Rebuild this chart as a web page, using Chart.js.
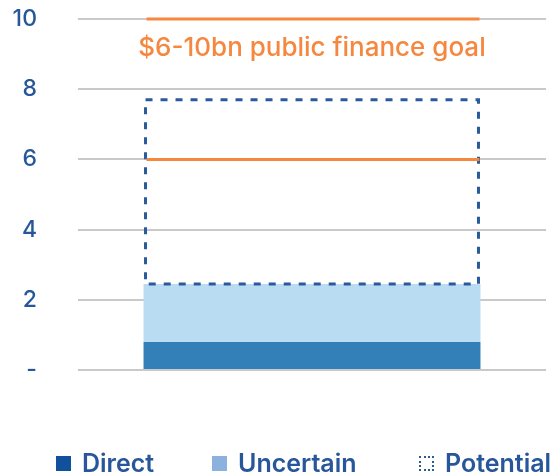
<!DOCTYPE html>
<html lang="en">
  <head>
    <meta charset="utf-8">
    <title>Public finance goal</title>
    <script src="https://cdn.jsdelivr.net/npm/chart.js@4"></script>
    <style>
      body { margin: 0; background: #fff; font-family: Inter, "Open Sans", sans-serif; }
      #chart { position: relative; width: 560px; height: 476px; }
      #legend { position: absolute; left: 56px; top: 448px; display: flex; }
      #legend .item { display: flex; align-items: center; color: #27579a; font-size: 25px; font-weight: 600; }
      #legend .box { width: 15px; height: 15px; margin-right: 11px; box-sizing: border-box; }
    </style>
  </head>
  <body>
    <div id="chart">
      <canvas id="chartCanvas"></canvas>
      <div id="legend"></div>
    </div>
    <script>
      // values (bn)
      const categories = ['Public finance'];
      const direct = [0.8];
      const uncertain = [1.65];
      const potential = [5.25];
      const goalRange = [6, 10];
      const goalLabel = '$6-10bn public finance goal';
      const yTicks = [0, 2, 4, 6, 8, 10];

      const blueText = '#27579a';
      const orange = '#f5873f';
      const fontFamily = 'Inter, "Open Sans", sans-serif';

      // draws the dashed box for Potential and the orange goal lines
      const overlay = {
        id: 'overlay',
        afterDatasetsDraw(chart) {
          const ctx = chart.ctx;
          const y = chart.scales.y;
          const bar = chart.getDatasetMeta(2).data[0];
          const left = bar.x - bar.width / 2;
          const right = bar.x + bar.width / 2;

          ctx.save();
          ctx.strokeStyle = '#2a5a9a';
          ctx.lineWidth = 3;
          ctx.setLineDash([7, 8]);
          ctx.strokeRect(left + 2, bar.y, right - left - 4, bar.base - bar.y);
          ctx.setLineDash([]);

          ctx.strokeStyle = orange;
          goalRange.forEach(v => {
            const py = y.getPixelForValue(v);
            ctx.beginPath();
            ctx.moveTo(left + 3, py);
            ctx.lineTo(right - 1, py);
            ctx.stroke();
          });

          ctx.fillStyle = orange;
          ctx.font = '500 26px ' + fontFamily;
          ctx.textAlign = 'center';
          ctx.textBaseline = 'middle';
          ctx.fillText(goalLabel, (left + right) / 2, y.getPixelForValue(goalRange[1]) + 29);
          ctx.restore();
        }
      };

      const ctx = document.getElementById('chartCanvas');

      const chart = new Chart(ctx, {
        type: 'bar',
        data: {
          labels: categories,
          datasets: [
            { label: 'Direct', data: direct, backgroundColor: '#3380b9', legendColor: '#11519b' },
            { label: 'Uncertain', data: uncertain, backgroundColor: '#badcf2', legendColor: '#8bb1df' },
            { label: 'Potential', data: potential, backgroundColor: 'rgba(0,0,0,0)', legendColor: null }
          ]
        },
        options: {
          responsive: true,
          maintainAspectRatio: false,
          animation: false,
          layout: { padding: { top: 19, right: 14, left: 4, bottom: 0 } },
          datasets: {
            bar: { barPercentage: 0.72, categoryPercentage: 1 }
          },
          scales: {
            x: {
              stacked: true,
              grid: { display: false },
              border: { display: false },
              ticks: { display: false },
              afterFit: s => { s.height = 106; }
            },
            y: {
              stacked: true,
              min: 0,
              max: 10,
              afterBuildTicks: s => { s.ticks = yTicks.map(v => ({ value: v })); },
              afterFit: s => { s.width = 74; s.paddingTop = 0; s.paddingBottom = 0; },
              grid: { color: '#c9c9c9', lineWidth: 2, drawTicks: false },
              border: { display: false },
              ticks: {
                color: blueText,
                padding: 41,
                font: { family: fontFamily, size: 23, weight: 500 },
                callback: v => v === 0 ? '-' : v
              }
            }
          },
          plugins: {
            tooltip: { enabled: false },
            legend: { display: false }
          }
        },
        plugins: [overlay]
      });

      // html legend under the chart
      const itemWidths = [156, 207, null];
      const legend = document.getElementById('legend');
      chart.data.datasets.forEach((ds, i) => {
        const item = document.createElement('div');
        item.className = 'item';
        if (itemWidths[i]) item.style.width = itemWidths[i] + 'px';
        const box = document.createElement('span');
        box.className = 'box';
        if (ds.legendColor) {
          box.style.background = ds.legendColor;
        } else {
          box.style.border = '2px dotted #2a5a9a';
        }
        item.appendChild(box);
        item.appendChild(document.createTextNode(ds.label));
        legend.appendChild(item);
      });
    </script>
  </body>
</html>
